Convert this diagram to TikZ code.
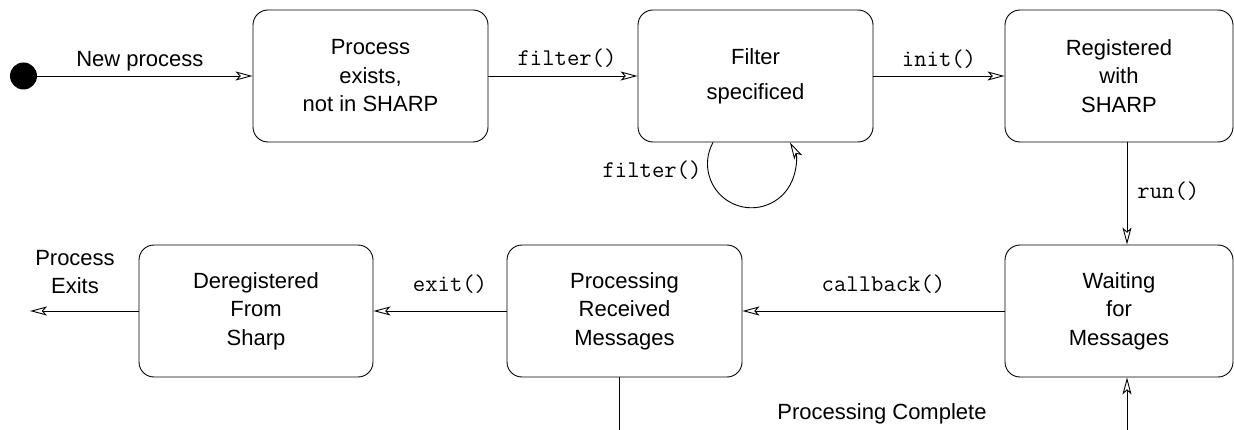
\documentclass[tikz,border=0pt]{standalone}
\usepackage{fontspec}
\setmainfont{Liberation Sans}
\setmonofont{Latin Modern Mono}
\usetikzlibrary{arrows.meta}
\newcommand\statefont{\fontsize{22}{28.5}\selectfont}
\newcommand\callfont{\fontsize{24}{28}\selectfont\ttfamily}
\begin{document}
\begin{tikzpicture}[x=1pt,y=-1pt,
  state/.style={draw, rounded corners=15pt, line width=0.9pt, minimum height=132pt,
                align=center, font=\statefont, inner sep=0pt},
  flow/.style={draw, line width=0.9pt},
  arr/.style={flow, -{Stealth[open,fill=white,length=17pt,width=9pt,inset=4pt]}},
  call/.style={font=\callfont, inner sep=0pt},
  lbl/.style={font=\statefont, inner sep=0pt, align=center}]
\useasboundingbox (0,0) rectangle (1234,430);

% states
\node[circle, fill=black, minimum size=27pt, inner sep=0pt] (init) at (23.5,76) {};
\node[state, minimum width=235pt] (exists) at (370.5,76) {Process\\exists,\\not in SHARP};
\node[state, minimum width=235pt] (filter) at (755.5,76) {Filter\\[6.5pt]specificed};
\node[state, minimum width=228pt] (reg)    at (1119,76)  {Registered\\with\\SHARP};
\node[state, minimum width=228pt] (wait)   at (1119,311) {Waiting\\for\\Messages};
\node[state, minimum width=235pt] (proc)   at (624.5,311) {Processing\\Received\\Messages};
\node[state, minimum width=234pt] (dereg)  at (256,311)  {Deregistered\\From\\Sharp};

% free ends
\coordinate (gone)    at (30,311);
\coordinate (doneOut) at (619,430);
\coordinate (doneIn)  at (1127,430);

% transitions
\draw[arr] (init) -- (exists)
  node[lbl, midway, anchor=base, yshift=9pt, xshift=-5pt] (newlbl) {New process};
\draw[arr] (exists) -- (filter)
  node[call, midway, anchor=base, yshift=10pt, xshift=4pt] (filterlbl) {filter()};
\draw[arr] ([xshift=-42.5pt]filter.south) arc[start angle=151, end angle=389, radius=44pt];
\node[call, anchor=base] (looplbl) at (652,178) {filter()};
\draw[arr] (filter) -- (reg)
  node[call, midway, anchor=base, yshift=9.5pt] (initlbl) {init()};
\draw[arr] ([xshift=8pt]reg.south) -- ([xshift=8pt]wait.north)
  node[call, midway, anchor=west, xshift=10pt, yshift=2pt] (runlbl) {run()};
\draw[arr] (wait) -- (proc)
  node[call, midway, anchor=base, yshift=19pt, xshift=10pt] (cblbl) {callback()};
\draw[arr] (proc) -- (dereg)
  node[call, midway, anchor=base, yshift=19pt, xshift=10pt] (exitlbl) {exit()};
\draw[arr] (dereg) -- (gone);
\node[lbl] (exitslbl) at (75,272) {Process\\Exits};

% processing complete: back to waiting
\draw[flow] ([xshift=-5.5pt]proc.south) -- (doneOut);
\draw[arr] (doneIn) -- ([xshift=8pt]wait.south);
\node[lbl, anchor=base] (donelbl) at (882,419) {Processing Complete};
\end{tikzpicture}
\end{document}
